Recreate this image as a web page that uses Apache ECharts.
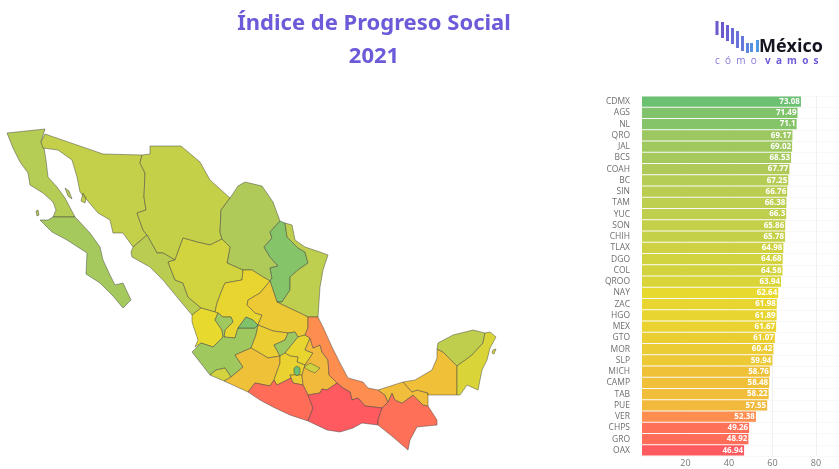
<!DOCTYPE html>
<html>
<head>
<meta charset="utf-8">
<title>Índice de Progreso Social 2021</title>
<style>
html,body{margin:0;padding:0;background:#fff}
#chart{width:839px;height:469px}
</style>
<script src="https://cdn.jsdelivr.net/npm/echarts@6/dist/echarts.min.js"></script>
</head>
<body>
<div id="chart"></div>
<script>
var stateCodes = ['CDMX','AGS','NL','QRO','JAL','BCS','COAH','BC','SIN','TAM','YUC','SON','CHIH','TLAX','DGO','COL','QROO','NAY','ZAC','HGO','MEX','GTO','MOR','SLP','MICH','CAMP','TAB','PUE','VER','CHPS','GRO','OAX'];
var stateValues = [73.08,71.49,71.1,69.17,69.02,68.53,67.77,67.25,66.76,66.38,66.3,65.86,65.78,64.98,64.68,64.58,63.94,62.64,61.98,61.89,61.67,61.07,60.42,59.94,58.76,58.48,58.22,57.55,52.38,49.26,48.92,46.94];
var scaleColors = ['#ff5a5f','#ff8c50','#f2b93c','#e8d92e','#aeca5a','#6cc072'];
var xTicks = [20,40,60,80];

// state outlines, plane units, y pointing down
var outlines = {
  BC: [[[7,133],[45,129],[41,142],[44,148],[46,160],[48,177],[57,187],[65,198],[75,217],[53,217],[56,210],[53,202],[43,193],[30,185],[28,173],[20,162],[13,148]],[[36,211],[38,210],[39,215],[37,216]],[[65,188],[69,191],[72,199],[68,196]]],
  BCS: [[[53,217],[75,217],[78,220],[90,233],[100,247],[103,260],[110,275],[115,285],[123,283],[131,300],[123,308],[113,296],[100,283],[86,274],[87,253],[67,240],[52,232],[40,220],[48,220]]],
  SON: [[[45,134],[103,154],[142,155],[140,163],[145,173],[144,197],[146,210],[137,213],[143,230],[147,235],[133,247],[123,233],[113,233],[110,220],[98,213],[87,200],[80,192],[77,177],[72,160],[58,150],[43,148],[41,142]],[[83,193],[86,198],[85,203],[81,201]]],
  CHIH: [[[142,155],[150,154],[150,146],[181,146],[200,162],[210,180],[230,198],[221,210],[220,232],[222,239],[210,245],[197,242],[183,238],[175,260],[163,253],[157,253],[147,235],[143,230],[137,213],[146,210],[144,197],[145,173],[140,163]]],
  COAH: [[[230,198],[238,186],[245,182],[262,186],[273,202],[280,221],[270,232],[272,238],[264,247],[270,257],[278,266],[270,268],[272,278],[270,281],[263,277],[252,270],[243,270],[227,263],[230,247],[222,239],[220,232],[221,210]]],
  NL: [[[280,221],[285,223],[287,237],[298,248],[305,252],[308,263],[298,270],[290,277],[290,290],[282,302],[277,302],[270,281],[272,278],[270,268],[278,266],[270,257],[264,247],[272,238],[270,232]]],
  TAM: [[[285,223],[292,225],[295,240],[305,247],[320,252],[328,255],[323,270],[320,287],[318,317],[308,317],[300,313],[283,305],[277,302],[282,302],[290,290],[290,277],[298,270],[308,263],[305,252],[298,248],[287,237]]],
  SIN: [[[131,252],[133,247],[147,235],[157,253],[163,253],[175,260],[168,262],[175,280],[183,283],[188,297],[201,308],[192,315],[177,297],[163,280],[150,267],[132,257]]],
  DGO: [[[175,260],[183,238],[197,242],[210,245],[222,239],[230,247],[227,263],[243,270],[242,280],[225,283],[222,290],[217,303],[215,312],[201,308],[188,297],[183,283],[175,280],[168,262]]],
  ZAC: [[[217,303],[222,290],[225,283],[242,280],[243,270],[252,270],[263,277],[270,281],[260,293],[248,300],[247,305],[255,313],[262,315],[258,325],[253,320],[246,317],[238,328],[235,338],[224,337],[225,330],[233,322],[231,317],[223,317],[218,313],[215,312]]],
  NAY: [[[192,315],[201,308],[215,312],[218,313],[215,320],[222,330],[223,337],[213,347],[201,343],[195,347],[198,340],[192,322]]],
  JAL: [[[218,313],[223,317],[231,317],[233,322],[225,330],[224,337],[235,338],[238,328],[255,328],[258,325],[256,335],[251,348],[235,355],[243,367],[231,377],[225,368],[216,370],[210,375],[192,352],[201,343],[213,347],[223,337],[222,330],[215,320]]],
  AGS: [[[238,328],[246,317],[253,320],[258,325],[255,328]]],
  COL: [[[210,375],[216,370],[225,368],[231,377],[224,381]]],
  SLP: [[[248,300],[260,293],[270,281],[277,302],[283,305],[300,313],[308,317],[308,328],[305,335],[298,337],[295,332],[288,333],[273,331],[258,325],[262,315],[255,313],[247,305]]],
  GTO: [[[258,325],[273,331],[288,333],[285,340],[274,345],[280,356],[268,358],[258,352],[251,348],[256,335]]],
  QRO: [[[288,333],[295,332],[298,337],[285,353],[280,356],[274,345],[285,340]]],
  HGO: [[[298,337],[305,335],[310,338],[305,350],[313,353],[307,362],[305,365],[297,362],[298,357],[290,356],[285,353]]],
  MICH: [[[235,355],[251,348],[258,352],[268,358],[280,356],[280,363],[274,380],[270,386],[255,383],[248,392],[224,381],[231,377],[243,367]]],
  MEX: [[[285,353],[290,356],[298,357],[297,362],[305,365],[302,375],[290,375],[291,378],[277,385],[274,380],[280,363],[280,356]]],
  MOR: [[[290,375],[302,375],[303,385],[293,383],[291,378]]],
  PUE: [[[310,338],[305,350],[313,353],[307,362],[305,365],[302,375],[303,385],[308,395],[320,393],[322,389],[327,390],[337,383],[329,375],[328,360],[322,352],[320,345],[313,348]]],
  VER: [[[308,317],[318,317],[323,327],[332,347],[340,363],[348,378],[363,382],[368,388],[378,390],[385,395],[388,402],[382,408],[365,406],[358,398],[352,400],[350,392],[343,388],[337,383],[329,375],[328,360],[322,352],[320,345],[313,348],[310,338],[305,335],[308,328]]],
  GRO: [[[248,392],[255,383],[270,386],[274,380],[277,385],[291,378],[293,383],[303,385],[308,395],[313,408],[308,421],[290,415],[273,407],[260,400]]],
  OAX: [[[308,395],[320,393],[322,389],[327,390],[337,383],[343,388],[350,392],[352,400],[358,398],[365,406],[382,408],[378,420],[378,425],[362,423],[353,428],[340,432],[327,430],[308,421],[313,408]]],
  CHPS: [[[382,408],[388,402],[392,393],[395,400],[402,403],[413,395],[423,405],[428,406],[437,420],[437,425],[417,427],[410,440],[408,450],[393,437],[378,425],[378,420]]],
  TAB: [[[378,390],[403,382],[412,392],[417,390],[428,393],[428,406],[423,405],[413,395],[402,403],[395,400],[392,393],[388,402],[385,395]]],
  CAMP: [[[403,382],[415,380],[432,370],[437,358],[437,349],[443,352],[457,366],[457,395],[428,395],[428,393],[417,390],[412,392]]],
  YUC: [[[437,349],[438,343],[453,335],[473,330],[485,333],[483,343],[472,355],[457,366],[443,352]]],
  QROO: [[[485,333],[490,332],[496,337],[490,348],[487,360],[482,370],[478,390],[467,385],[460,395],[457,395],[457,366],[472,355],[483,343]],[[493,350],[496,349],[494,354],[492,353]]],
  TLAX: [[[304,367],[310,363],[320,368],[315,373],[308,370]]],
  CDMX: [[[294,368],[297,366],[300,368],[300,373],[297,376],[294,373]]]
};

var features = [];
for (var code in outlines) {
  features.push({
    type: 'Feature',
    properties: { name: code },
    geometry: {
      type: 'MultiPolygon',
      coordinates: outlines[code].map(function (ring) {
        return [ring.concat([ring[0]]).map(function (p) { return [p[0], -p[1]]; })];
      })
    }
  });
}
echarts.registerMap('mexico', { type: 'FeatureCollection', features: features });

var mapData = [];
for (var i = 0; i < stateCodes.length; i++) {
  mapData.push({ name: stateCodes[i], value: stateValues[i] });
}

var logoBars = [[715.5,21,3,14],[721,22,3,16],[726,25,3,16],[731,28,3,16],[736,31,3,17],[741,36,3,15],[746,43,3,10],[750,43,3,9],[756,40,3,12]];
var logoColors = ['#6a5acd','#6a5acd','#6a62d2','#6a6ad6','#6a72da','#6478dc','#5c84de','#5590e0','#4e9ae2'];
var graphics = logoBars.map(function (b, i) {
  return { type: 'rect', shape: { x: b[0], y: b[1], width: b[2], height: b[3] }, style: { fill: logoColors[i] } };
});
graphics.push({ type: 'text', left: 759, top: 38, style: { text: 'México', fill: '#141420', font: 'bold 18px "Open Sans"' } });
graphics.push({ type: 'text', left: 715, top: 56, style: { text: 'c  ó  m  o', fill: '#8478e0', font: '10px "Open Sans"' } });
graphics.push({ type: 'text', left: 765, top: 56, style: { text: 'v  a  m  o  s', fill: '#6b5bd8', font: 'bold 10px "Open Sans"' } });

var chart = echarts.init(document.getElementById('chart'), null, { renderer: 'canvas' });
chart.setOption({
  animation: false,
  backgroundColor: '#fff',
  title: {
    text: 'Índice de Progreso Social\n2021',
    left: 369, top: 2, textAlign: 'center',
    textStyle: { color: '#6b5bd8', fontFamily: 'Noto Sans', fontWeight: 'bold', fontSize: 22, lineHeight: 33 }
  },
  visualMap: {
    show: false, type: 'continuous',
    min: 46.94, max: 73.08,
    seriesIndex: [0, 1], dimension: 0,
    inRange: { color: scaleColors }
  },
  grid: { left: 642, top: 96, width: 195.75, height: 360, containLabel: false },
  xAxis: {
    type: 'value', min: 0, max: 90, interval: 20,
    axisLine: { show: false }, axisTick: { show: false },
    axisLabel: {
      color: '#777', fontSize: 9, fontFamily: 'Open Sans', margin: 3, showMaxLabel: false,
      formatter: function (v) { return xTicks.indexOf(v) >= 0 ? v : ''; }
    },
    splitLine: { showMinLine: false, showMaxLine: false, lineStyle: { color: '#f0f0f0', width: 1 } }
  },
  yAxis: {
    type: 'category', inverse: true, data: stateCodes,
    axisLine: { show: false }, axisTick: { show: false },
    axisLabel: { color: '#6e6e6e', fontSize: 8.5, fontFamily: 'Open Sans', margin: 12, interval: 0 },
    splitLine: { show: true, lineStyle: { color: '#f8f8f8' } }
  },
  series: [
    {
      type: 'bar',
      encode: { x: 0, y: 1 },
      data: stateValues.map(function (v, i) { return [v, stateCodes[i]]; }),
      barWidth: 10.4,
      label: {
        show: true, position: 'insideRight', distance: 1, color: '#fff',
        fontFamily: 'Open Sans', fontWeight: 'bold', fontSize: 8,
        formatter: function (p) { return p.value[0]; }
      }
    },
    {
      type: 'map', map: 'mexico', aspectScale: 1,
      layoutCenter: [251.5, 289.5], layoutSize: 489,
      roam: false,
      label: { show: false },
      itemStyle: { borderColor: 'rgba(60,60,60,0.65)', borderWidth: 0.7 },
      emphasis: { disabled: true },
      data: mapData
    }
  ],
  graphic: graphics
});
window.onresize = chart.resize;
</script>
</body>
</html>
